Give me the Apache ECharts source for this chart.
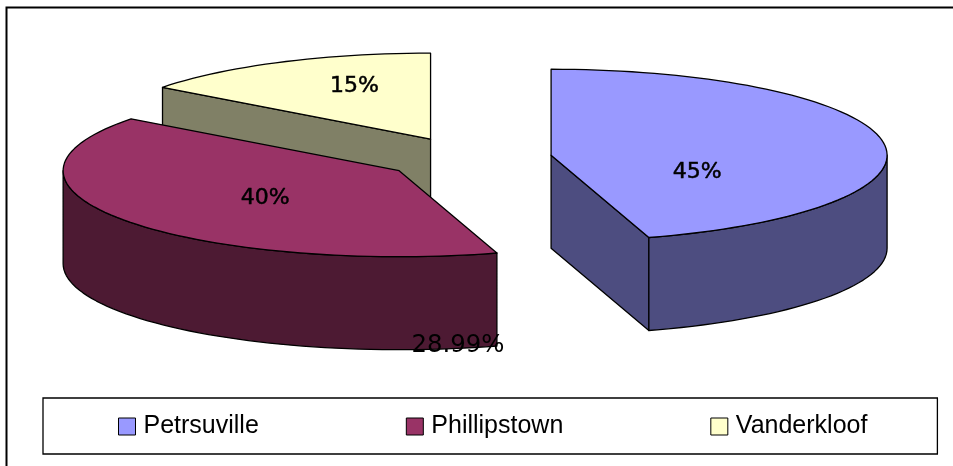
<!DOCTYPE html>
<html lang="en">
<head>
    <meta charset="UTF-8">
    <title>Pie</title>
    <script src="https://cdn.jsdelivr.net/npm/echarts@6/dist/echarts.min.js"></script>
    <style>
        html, body { margin: 0; padding: 0; background: #fff; overflow: hidden; }
        #main { width: 953px; height: 466px; }
    </style>
</head>
<body>
    <div id="main"></div>
    <script>
        // data
        var names = ['Petrsuville', 'Phillipstown', 'Vanderkloof'];
        var shares = [45.3, 40.0, 14.7];
        var strayLabel = '28.99%';

        // colours: top face, side face
        var topColors = ['#9999ff', '#993366', '#ffffcc'];
        var sideColors = ['#4d4d80', '#4d1a33', '#808066'];

        // pie layout (an Excel style tilted, exploded 3d pie)
        var cx = 468, cy = 158.4, rx = 336, ry = 86, depth = 93, explode = 0.25;
        var labelOffsets = [[146, 17], [-134, 28], [-76, -53]];

        var total = shares.reduce(function (a, b) { return a + b; }, 0);

        function pt(c, deg, r, dy) {
            var t = deg * Math.PI / 180;
            return [c[0] + rx * r * Math.sin(t), c[1] - ry * r * Math.cos(t) + (dy || 0)];
        }

        function arc(c, from, to, dy) {
            var pts = [];
            var n = Math.max(2, Math.ceil(Math.abs(to - from) / 2));
            for (var i = 0; i <= n; i++) {
                pts.push(pt(c, from + (to - from) * i / n, 1, dy));
            }
            return pts;
        }

        function poly(points, fill) {
            return {
                type: 'polygon',
                shape: { points: points },
                style: { fill: fill, stroke: '#000', lineWidth: 1.3, lineJoin: 'round' }
            };
        }

        function makeRender(idx) {
            return function (params, api) {
                var before = 0;
                for (var i = 0; i < idx; i++) before += shares[i];
                var value = api.value(0);
                var a0 = before / total * 360;
                var a1 = a0 + value / total * 360;
                var centre = pt([cx, cy], (a0 + a1) / 2, explode);
                var kids = [];

                // straight walls, only those that face the viewer
                [a0, a1].forEach(function (a, k) {
                    var show = k === 0 ? (a > 180 && a < 360) : (a > 0 && a < 180);
                    if (!show) return;
                    var p = pt(centre, a, 1);
                    kids.push(poly([
                        centre, p, [p[0], p[1] + depth], [centre[0], centre[1] + depth]
                    ], sideColors[idx]));
                });

                // curved front wall
                var f0 = Math.max(a0, 90), f1 = Math.min(a1, 270);
                if (f1 > f0) {
                    kids.push(poly(
                        arc(centre, f0, f1, 0).concat(arc(centre, f1, f0, depth)),
                        sideColors[idx]
                    ));
                }

                // top face
                kids.push(poly([centre].concat(arc(centre, a0, a1, 0)), topColors[idx]));

                kids.push({
                    type: 'text',
                    z2: 10,
                    style: {
                        text: Math.round(value) + '%',
                        x: centre[0] + labelOffsets[idx][0],
                        y: centre[1] + labelOffsets[idx][1],
                        align: 'center',
                        verticalAlign: 'middle',
                        font: '22px "DejaVu Sans"',
                        fill: '#000',
                        stroke: '#000',
                        lineWidth: 0.5
                    }
                });
                return { type: 'group', children: kids };
            };
        }

        var mCharts = echarts.init(document.getElementById('main'));

        var option = {
            backgroundColor: '#fff',
            animation: false,
            legend: {
                data: names,
                left: 43,
                top: 398,
                orient: 'horizontal',
                selectedMode: false,
                icon: 'rect',
                itemWidth: 17,
                itemHeight: 17,
                itemGap: 147,
                padding: [16, 70, 15, 75],
                borderColor: '#000',
                borderWidth: 1.3,
                itemStyle: { borderColor: '#000', borderWidth: 1 },
                textStyle: {
                    fontFamily: 'Liberation Sans',
                    fontSize: 25,
                    color: '#000',
                    padding: [0, 0, 0, 3]
                }
            },
            graphic: [
                {
                    type: 'rect',
                    z: -1,
                    shape: { x: 6.5, y: 7.5, width: 1000, height: 500 },
                    style: { fill: '#fff', stroke: '#000', lineWidth: 2 }
                },
                {
                    type: 'text',
                    z: 100,
                    style: {
                        text: strayLabel,
                        x: 458,
                        y: 346,
                        align: 'center',
                        verticalAlign: 'middle',
                        font: '24.4px "DejaVu Sans"',
                        fill: '#000'
                    }
                }
            ],
            series: names.map(function (name, i) {
                return {
                    type: 'custom',
                    name: name,
                    coordinateSystem: 'none',
                    z: 3 - i,
                    itemStyle: { color: topColors[i] },
                    data: [[shares[i]]],
                    renderItem: makeRender(i)
                };
            })
        };
        mCharts.setOption(option);
    </script>
</body>
</html>
